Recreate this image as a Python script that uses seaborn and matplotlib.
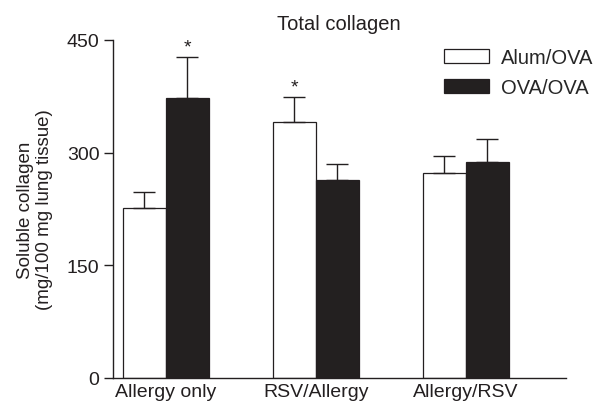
import pandas as pd
import numpy as np
import matplotlib
import matplotlib.pyplot as plt
import seaborn as sns

matplotlib.use("Agg")

groups = ["Allergy only", "RSV/Allergy", "Allergy/RSV"]
treatments = ["Alum/OVA", "OVA/OVA"]
alum_mean = [226, 341, 273]
alum_sem = [22, 33, 23]
ova_mean = [373, 264, 288]
ova_sem = [54, 21, 30]
# significance stars: (group, treatment)
stars = [("Allergy only", "OVA/OVA"), ("RSV/Allergy", "Alum/OVA")]

df = pd.DataFrame({
    "group": groups * 2,
    "treatment": [treatments[0]] * 3 + [treatments[1]] * 3,
    "value": alum_mean + ova_mean,
    "sem": alum_sem + ova_sem,
})

sns.set_theme(style="ticks")
plt.rcParams["font.family"] = ["Liberation Sans", "DejaVu Sans"]

fig = plt.figure(figsize=(6, 4.14), dpi=100)
ax = fig.add_axes([0.188, 0.085, 0.755, 0.816])

palette = {"Alum/OVA": "white", "OVA/OVA": "#231f20"}
sns.barplot(data=df, x="group", y="value", hue="treatment", order=groups,
            hue_order=treatments, palette=palette, width=0.573,
            edgecolor="#231f20", linewidth=0.9, errorbar=None, ax=ax)

# upward-only error bars drawn from the bar geometry
for cont, t in zip(ax.containers, treatments):
    sub = df[df["treatment"] == t].set_index("group").loc[groups]
    xs = [b.get_x() + b.get_width() / 2 for b in cont]
    ax.errorbar(xs, sub["value"], yerr=[np.zeros(3), sub["sem"]], fmt="none",
                ecolor="#231f20", elinewidth=1.0, capsize=8, capthick=1.0)
    for x, (g, row) in zip(xs, sub.iterrows()):
        if (g, t) in stars:
            ax.annotate("*", (x, row["value"] + row["sem"]), xytext=(0, 1),
                        textcoords="offset points", ha="center", va="bottom",
                        fontsize=14, color="#231f20")

ax.set_ylim(0, 450)
ax.set_yticks([0, 150, 300, 450])
ax.set_xlim(-0.353, 2.667)
ax.set_xlabel("")
ax.set_ylabel("Soluble collagen\n(mg/100 mg lung tissue)", fontsize=13.5,
              color="#231f20", labelpad=10, linespacing=1.15)
ax.set_title("Total collagen", fontsize=14.5, color="#231f20", pad=8)
ax.tick_params(axis="y", length=6.5, width=1, labelsize=14, colors="#231f20",
               pad=3)
ax.tick_params(axis="x", length=0, labelsize=14, colors="#231f20", pad=4)
for s in ["top", "right"]:
    ax.spines[s].set_visible(False)
for s in ["left", "bottom"]:
    ax.spines[s].set_color("#231f20")
    ax.spines[s].set_linewidth(1.0)

ax.legend(loc="upper right", bbox_to_anchor=(1.1, 1.03), frameon=False,
          fontsize=14.5, handlelength=2.2, handleheight=0.75,
          handletextpad=0.6, labelspacing=0.55)

plt.savefig("out.png", dpi=100)
plt.close()
